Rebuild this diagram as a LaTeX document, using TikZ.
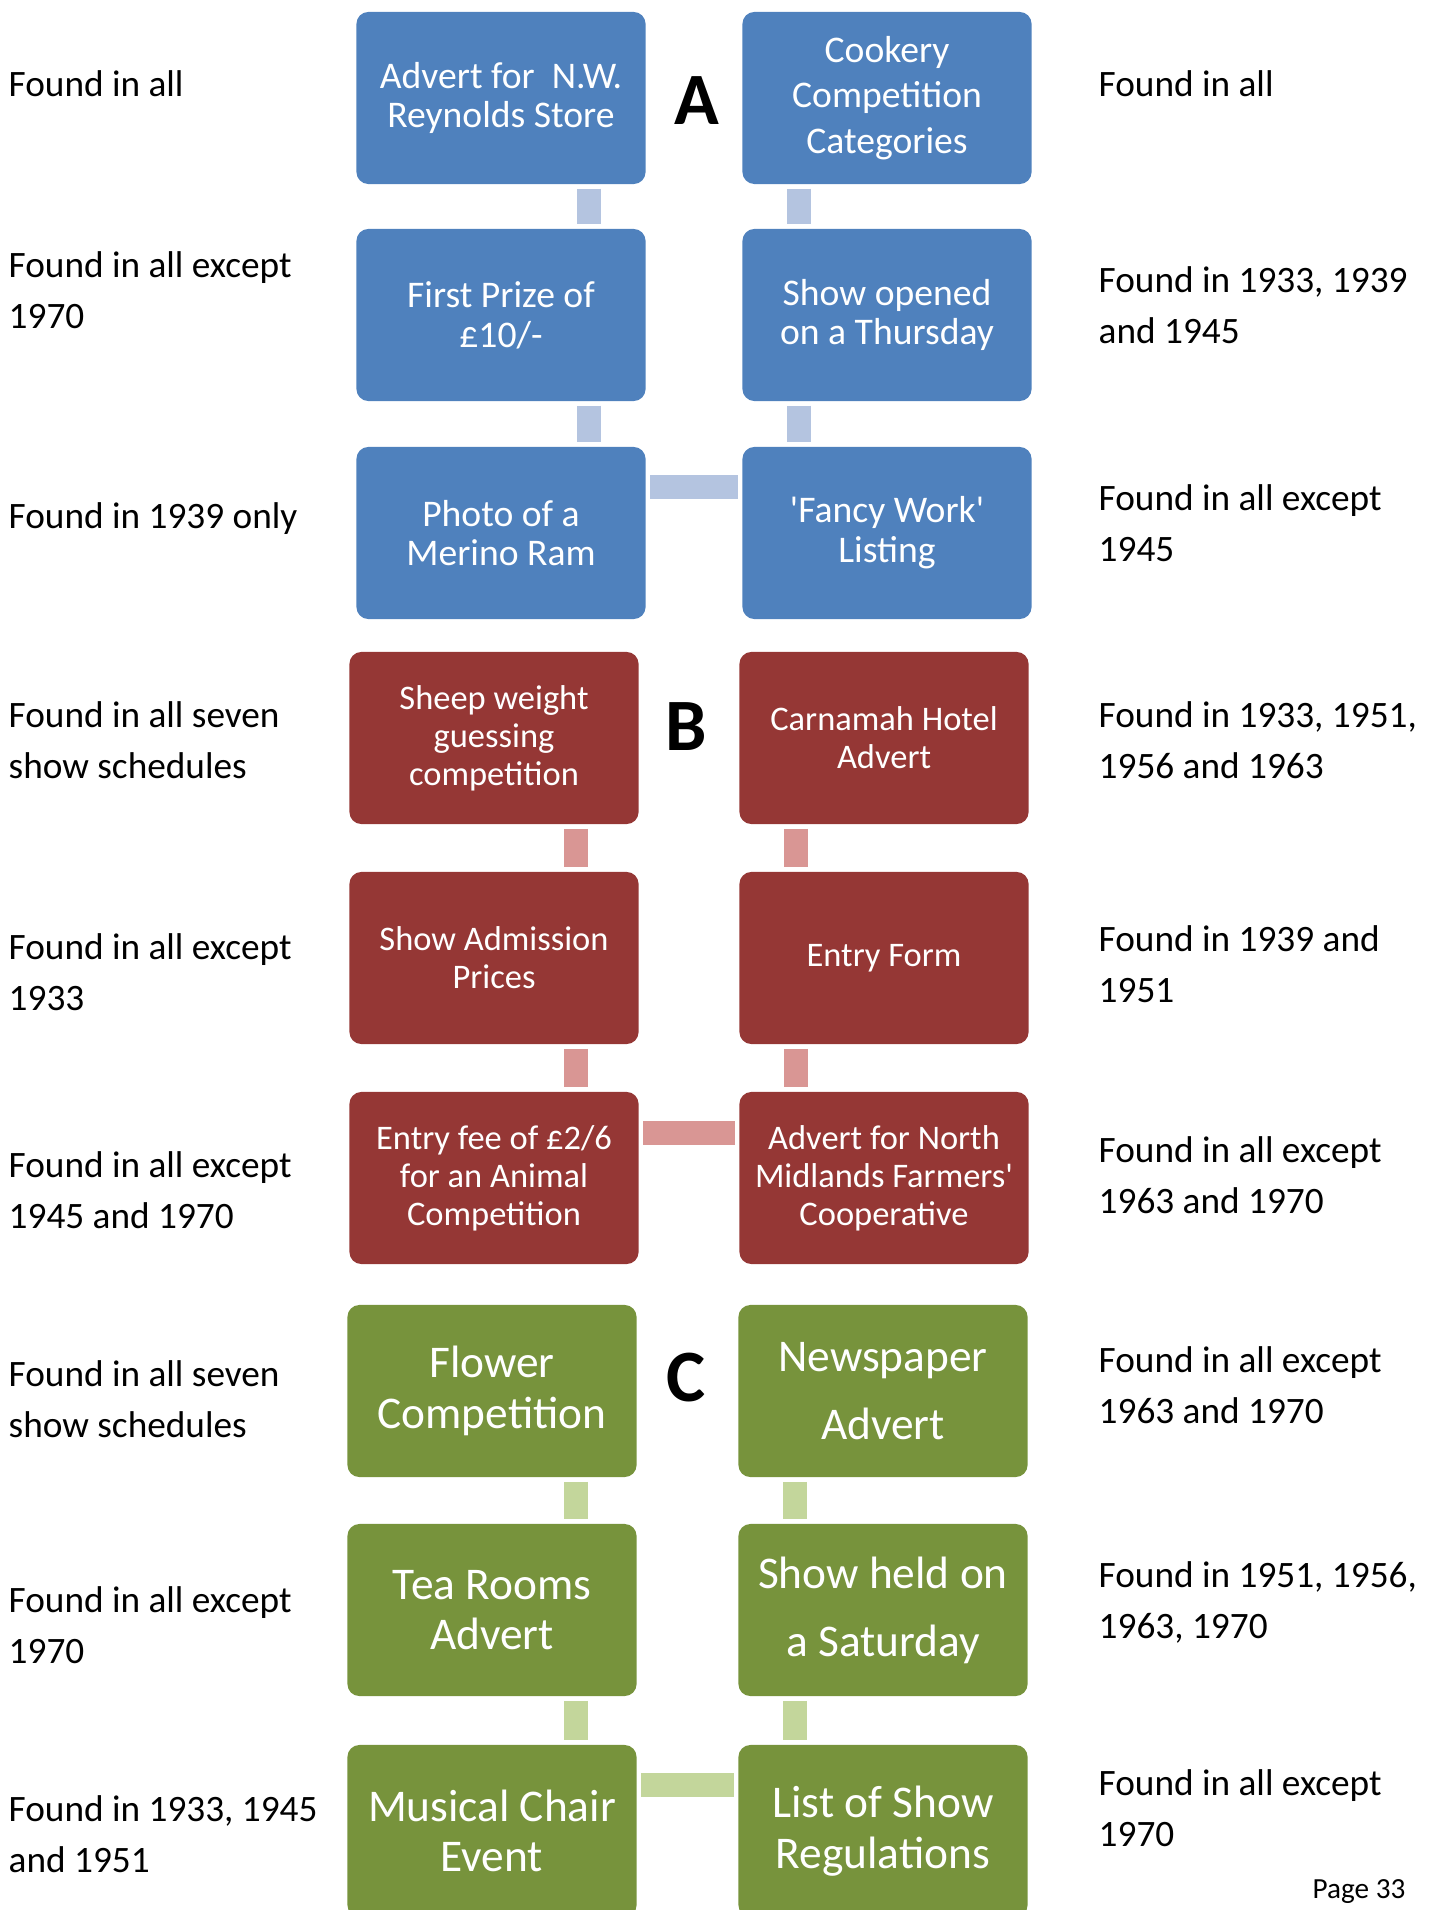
\documentclass[tikz,border=0pt]{standalone}
\usepackage{fontspec}
\setmainfont{Carlito}
\definecolor{boxblue}{HTML}{4F81BD}
\definecolor{linkblue}{HTML}{B4C4E0}
\definecolor{boxred}{HTML}{953735}
\definecolor{linkred}{HTML}{D99694}
\definecolor{boxgreen}{HTML}{77933C}
\definecolor{linkgreen}{HTML}{C3D69B}
\begin{document}
\begin{tikzpicture}[x=0.01cm,y=-0.01cm,
    box/.style={rectangle,rounded corners=0.12cm,minimum width=2.89cm,minimum height=1.72cm,
        inner sep=0pt,align=center,text=white},
    bluebox/.style={box,fill=boxblue,font=\fontsize{10.7}{11.3}\selectfont},
    redbox/.style={box,fill=boxred,font=\fontsize{9.8}{10.8}\selectfont},
    greenbox/.style={box,fill=boxgreen,font=\fontsize{12.9}{14.4}\selectfont},
    link/.style={line width=0.24cm,shorten <=0.04cm,shorten >=0.04cm},
    side/.style={anchor=west,align=left,inner sep=0pt,font=\fontsize{10.6}{14.5}\selectfont},
    letter/.style={inner sep=0pt,font=\fontsize{21}{25}\selectfont\bfseries}]

    \useasboundingbox (0,0) rectangle (1434,1910);

    \node[bluebox] (advert) at (501,98) {Advert for~ N.W.\\Reynolds Store};
    \node[bluebox,font=\fontsize{10.7}{13}\selectfont] (cookery) at (887,98) {Cookery\\Competition\\Categories};
    \node[bluebox] (prize) at (501,315) {First Prize of\\£10/-};
    \node[bluebox] (thursday) at (887,315) {Show opened\\on a Thursday};
    \node[bluebox] (ram) at (501,533) {Photo of a\\Merino Ram};
    \node[bluebox] (fancy) at (887,533) {\textquotesingle Fancy Work\textquotesingle\\Listing};
    \node[letter] (lettera) at (697,101) {A};

    \draw[link,linkblue] ([xshift=0.88cm]advert.south) -- ([xshift=0.88cm]prize.north);
    \draw[link,linkblue] ([xshift=0.88cm]prize.south) -- ([xshift=0.88cm]ram.north);
    \draw[link,linkblue] ([xshift=-0.88cm]cookery.south) -- ([xshift=-0.88cm]thursday.north);
    \draw[link,linkblue] ([xshift=-0.88cm]thursday.south) -- ([xshift=-0.88cm]fancy.north);
    \draw[link,linkblue] ([yshift=0.46cm]ram.east) -- ([yshift=0.46cm]fancy.west);

    \node[redbox] (sheep) at (494,738) {Sheep weight\\guessing\\competition};
    \node[redbox] (hotel) at (884,738) {Carnamah Hotel\\Advert};
    \node[redbox] (admission) at (494,958) {Show Admission\\Prices};
    \node[redbox] (entryform) at (884,958) {Entry Form};
    \node[redbox] (fee) at (494,1178) {Entry fee of £2/6\\for an Animal\\Competition};
    \node[redbox] (farmers) at (884,1178) {Advert for North\\Midlands Farmers\textquotesingle\\Cooperative};
    \node[letter] (letterb) at (686,727) {B};

    \draw[link,linkred] ([xshift=0.82cm]sheep.south) -- ([xshift=0.82cm]admission.north);
    \draw[link,linkred] ([xshift=0.82cm]admission.south) -- ([xshift=0.82cm]fee.north);
    \draw[link,linkred] ([xshift=-0.88cm]hotel.south) -- ([xshift=-0.88cm]entryform.north);
    \draw[link,linkred] ([xshift=-0.88cm]entryform.south) -- ([xshift=-0.88cm]farmers.north);
    \draw[link,linkred] ([yshift=0.45cm]fee.east) -- ([yshift=0.45cm]farmers.west);

    \node[greenbox] (flower) at (492,1391) {Flower\\Competition};
    \node[greenbox,font=\fontsize{12.9}{19.4}\selectfont] (newspaper) at (883,1391) {Newspaper\\Advert};
    \node[greenbox] (tearooms) at (492,1610) {Tea Rooms\\Advert};
    \node[greenbox,font=\fontsize{12.9}{19.4}\selectfont] (saturday) at (883,1610) {Show held on\\a Saturday};
    \node[greenbox] (chair) at (492,1831) {Musical Chair\\Event};
    \node[greenbox] (regulations) at (883,1831) {List of Show\\Regulations};
    \node[letter] (letterc) at (686,1378) {C};

    \draw[link,linkgreen] ([xshift=0.84cm]flower.south) -- ([xshift=0.84cm]tearooms.north);
    \draw[link,linkgreen] ([xshift=0.84cm]tearooms.south) -- ([xshift=0.84cm]chair.north);
    \draw[link,linkgreen] ([xshift=-0.88cm]newspaper.south) -- ([xshift=-0.88cm]saturday.north);
    \draw[link,linkgreen] ([xshift=-0.88cm]saturday.south) -- ([xshift=-0.88cm]regulations.north);
    \draw[link,linkgreen] ([yshift=0.46cm]chair.east) -- ([yshift=0.46cm]regulations.west);

    \node[side] (lefta1) at (8,84) {Found in all};
    \node[side] (lefta2) at (8,290) {Found in all except\\1970};
    \node[side] (lefta3) at (8,519) {Found in 1939 only};
    \node[side] (leftb1) at (8,740) {Found in all seven\\show schedules};
    \node[side] (leftb2) at (8,972) {Found in all except\\1933};
    \node[side] (leftb3) at (8,1190) {Found in all except\\1945 and 1970};
    \node[side] (leftc1) at (8,1399) {Found in all seven\\show schedules};
    \node[side] (leftc2) at (8,1625) {Found in all except\\1970};
    \node[side] (leftc3) at (8,1834) {Found in 1933, 1945\\and 1951};

    \node[side] (righta1) at (1098,84) {Found in all};
    \node[side] (righta2) at (1098,305) {Found in 1933, 1939\\and 1945};
    \node[side] (righta3) at (1098,523) {Found in all except\\1945};
    \node[side] (rightb1) at (1098,740) {Found in 1933, 1951,\\1956 and 1963};
    \node[side] (rightb2) at (1098,964) {Found in 1939 and\\1951};
    \node[side] (rightb3) at (1098,1175) {Found in all except\\1963 and 1970};
    \node[side] (rightc1) at (1098,1385) {Found in all except\\1963 and 1970};
    \node[side] (rightc2) at (1098,1602) {Found in 1951, 1956,\\1963, 1970};
    \node[side] (rightc3) at (1098,1808) {Found in all except\\1970};

    \node[side,font=\fontsize{8.3}{10}\selectfont] (page) at (1312,1892) {Page 33};

\end{tikzpicture}
\end{document}
